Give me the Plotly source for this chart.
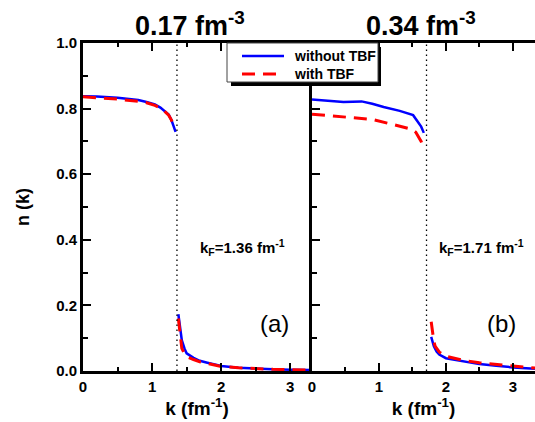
import plotly.graph_objects as go

# ---- data: panel (a) 0.17 fm^-3 ----
k_a_low_wo = [0.0, 0.2, 0.5, 0.8, 0.92, 1.04, 1.12, 1.19, 1.24, 1.28, 1.31, 1.34]
n_a_low_wo = [0.838, 0.837, 0.833, 0.826, 0.820, 0.813, 0.803, 0.790, 0.782, 0.765, 0.748, 0.729]
k_a_low_w = [0.0, 0.2, 0.5, 0.8, 0.92, 1.04, 1.12, 1.19, 1.24, 1.28, 1.32]
n_a_low_w = [0.836, 0.834, 0.829, 0.822, 0.818, 0.810, 0.802, 0.790, 0.780, 0.765, 0.744]
k_a_high_wo = [1.38, 1.40, 1.43, 1.47, 1.50, 1.60, 1.69, 1.80, 2.0, 2.25, 2.51, 2.75, 3.0, 3.3]
n_a_high_wo = [0.173, 0.135, 0.094, 0.068, 0.054, 0.040, 0.031, 0.025, 0.015, 0.010, 0.007, 0.005, 0.004, 0.003]
k_a_high_w = [1.38, 1.40, 1.43, 1.47, 1.50, 1.60, 1.69, 1.80, 2.0, 2.25, 2.51, 2.75, 3.0, 3.3]
n_a_high_w = [0.160, 0.115, 0.069, 0.052, 0.044, 0.035, 0.028, 0.023, 0.014, 0.010, 0.007, 0.005, 0.004, 0.003]

# ---- data: panel (b) 0.34 fm^-3 ----
k_b_low_wo = [0.0, 0.25, 0.47, 0.74, 0.9, 1.07, 1.31, 1.51, 1.58, 1.63, 1.67]
n_b_low_wo = [0.828, 0.824, 0.820, 0.822, 0.815, 0.805, 0.793, 0.780, 0.760, 0.745, 0.726]
k_b_low_w = [0.0, 0.25, 0.47, 0.74, 0.9, 1.16, 1.31, 1.49, 1.55, 1.59, 1.63, 1.67]
n_b_low_w = [0.783, 0.779, 0.774, 0.771, 0.767, 0.754, 0.747, 0.737, 0.728, 0.713, 0.700, 0.678]
k_b_high_wo = [1.78, 1.80, 1.82, 1.86, 1.90, 2.0, 2.25, 2.5, 2.75, 3.0, 3.33]
n_b_high_wo = [0.104, 0.088, 0.075, 0.059, 0.050, 0.039, 0.030, 0.021, 0.016, 0.011, 0.007]
k_b_high_w = [1.78, 1.79, 1.80, 1.82, 1.84, 1.90, 2.0, 2.25, 2.5, 2.75, 3.0, 3.33]
n_b_high_w = [0.150, 0.130, 0.110, 0.090, 0.075, 0.058, 0.045, 0.033, 0.025, 0.019, 0.015, 0.009]

kF_a = 1.36
kF_b = 1.71
series_names = ["without TBF", "with TBF"]
panel_titles = ["0.17 fm<sup>-3</sup>", "0.34 fm<sup>-3</sup>"]
y_ticks = [0.0, 0.2, 0.4, 0.6, 0.8, 1.0]
y_ticklabels = ["0.0", "0.2", "0.4", "0.6", "0.8", "1.0"]

W, H = 535, 422
FONT = "Liberation Sans, Arial, sans-serif"
BLUE = "#0000ff"
RED = "#ff0000"


def px(x):
    return x / W


def py(y):
    return 1 - y / H


fig = go.Figure()

blue_line = dict(color=BLUE, width=2.5)
red_line = dict(color=RED, width=3, dash="13px,8px")

panels = [
    ("x", "y", k_a_low_wo, n_a_low_wo, k_a_low_w, n_a_low_w,
     k_a_high_wo, n_a_high_wo, k_a_high_w, n_a_high_w),
    ("x2", "y2", k_b_low_wo, n_b_low_wo, k_b_low_w, n_b_low_w,
     k_b_high_wo, n_b_high_wo, k_b_high_w, n_b_high_w),
]
for (xa, ya, klwo, nlwo, klw, nlw, khwo, nhwo, khw, nhw) in panels:
    for kk, nn in ((klwo, nlwo), (khwo, nhwo)):
        fig.add_trace(go.Scatter(x=kk, y=nn, mode="lines", line=blue_line,
                                 name=series_names[0], showlegend=False,
                                 xaxis=xa, yaxis=ya))
    for kk, nn in ((klw, nlw), (khw, nhw)):
        fig.add_trace(go.Scatter(x=kk, y=nn, mode="lines", line=red_line,
                                 name=series_names[1], showlegend=False,
                                 xaxis=xa, yaxis=ya))

y0p, y1p = py(371), py(43)
tickfont = dict(family=FONT, size=15, color="black", weight="bold")

xcommon = dict(
    showline=True, linecolor="black", linewidth=3, mirror="ticks",
    ticks="inside", ticklen=8, tickwidth=2, tickcolor="black",
    tickvals=[0, 1, 2, 3], tickfont=tickfont, showgrid=False, zeroline=False,
    minor=dict(dtick=0.5, ticklen=4, tickwidth=2, tickcolor="black", ticks="inside"),
    title=dict(text="k (fm<sup>-1</sup>)", font=dict(family=FONT, size=19, color="black", weight="bold"),
               standoff=8),
    automargin=False,
)
ycommon = dict(
    range=[0, 1.0], showline=True, linecolor="black", linewidth=3,
    ticks="inside", ticklen=8, tickwidth=2, tickcolor="black",
    tickvals=y_ticks, ticktext=y_ticklabels, tickfont=tickfont,
    showgrid=False, zeroline=False,
    minor=dict(dtick=0.1, ticklen=5, tickwidth=2, tickcolor="black", ticks="inside"),
    domain=[y0p, y1p], automargin=False,
)

fig.update_layout(
    width=W, height=H,
    margin=dict(l=0, r=0, t=0, b=0, autoexpand=False),
    paper_bgcolor="white", plot_bgcolor="white",
    font=dict(family=FONT, color="black"),
    showlegend=False,
    xaxis=dict(xcommon, domain=[px(83), px(311)], range=[0, 3.3], anchor="y"),
    xaxis2=dict(xcommon, domain=[px(312), 1.0], range=[0, 3.33], anchor="y2"),
    yaxis=dict(ycommon, anchor="x",
               title=dict(text="n (k)", font=dict(family=FONT, size=18, color="black", weight="bold"),
                          standoff=22)),
    yaxis2=dict(ycommon, anchor="x2", showticklabels=False),
)

# dotted Fermi momentum lines
for xr, kf in (("x", kF_a), ("x2", kF_b)):
    fig.add_shape(type="line", xref=xr, yref="paper", x0=kf, x1=kf, y0=y0p, y1=y1p,
                  line=dict(color="black", width=1.3, dash="1.5px,3.5px"))

# legend box: shadow, frame, samples and labels
fig.add_shape(type="rect", xref="paper", yref="paper",
              x0=px(231), x1=px(381), y0=py(86), y1=py(47),
              fillcolor="black", line=dict(width=0), layer="above")
fig.add_shape(type="rect", xref="paper", yref="paper",
              x0=px(227), x1=px(378), y0=py(82), y1=py(43),
              fillcolor="white", line=dict(color="#444444", width=1), layer="above")
legend_rows = [(56, series_names[0], blue_line), (74, series_names[1], red_line)]
for yy, name, ln in legend_rows:
    fig.add_shape(type="line", xref="paper", yref="paper",
                  x0=px(242), x1=px(284), y0=py(yy), y1=py(yy),
                  line=ln, layer="above")
    fig.add_annotation(text=name, x=px(292), y=py(yy), xref="paper", yref="paper",
                       showarrow=False, xanchor="left", yanchor="middle",
                       font=dict(family=FONT, size=14, color="black", weight="bold"))

# panel titles
for xc, t in ((190, panel_titles[0]), (421, panel_titles[1])):
    fig.add_annotation(text=t, x=px(xc), y=py(24), xref="paper", yref="paper",
                       showarrow=False, xanchor="center", yanchor="middle",
                       font=dict(family=FONT, size=27, color="black", weight="bold"))

# kF labels
for xl, kf in ((198, kF_a), (437, kF_b)):
    fig.add_annotation(text="k<sub>F</sub>=%.2f fm<sup>-1</sup>" % kf, x=px(xl), y=py(247),
                       xref="paper", yref="paper", showarrow=False,
                       xanchor="left", yanchor="middle",
                       font=dict(family=FONT, size=15, color="black", weight="bold"))

# panel letters
for xc, t in ((274, "(a)"), (501, "(b)")):
    fig.add_annotation(text=t, x=px(xc), y=py(323), xref="paper", yref="paper",
                       showarrow=False, xanchor="center", yanchor="middle",
                       font=dict(family=FONT, size=24, color="black"))

fig.write_html("out.html", config={"displayModeBar": False},
               post_script="document.body.style.margin='0px';")
